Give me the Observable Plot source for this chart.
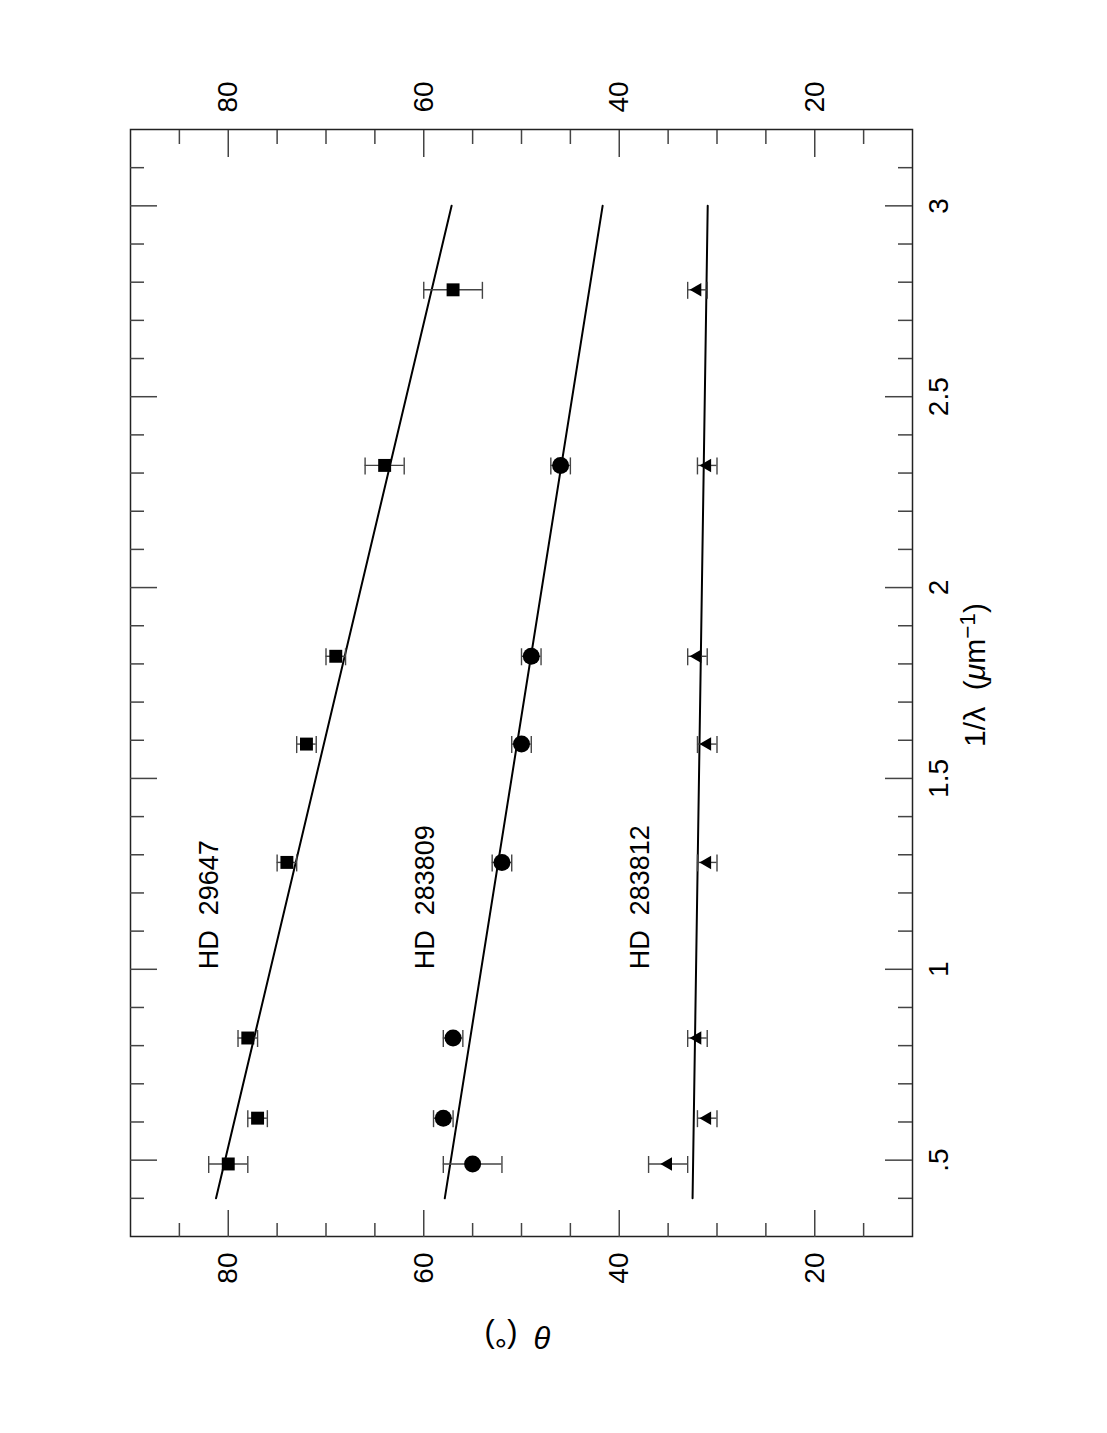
<!DOCTYPE html>
<html><head><meta charset="utf-8">
<script src="https://cdn.jsdelivr.net/npm/d3@7"></script>
<script src="https://cdn.jsdelivr.net/npm/@observablehq/plot@0.6"></script>
<style>
body{margin:0;background:#fff;}
#wrap{position:relative;width:1107px;height:1433px;overflow:hidden;background:#fff;}
#wrap svg{position:absolute;left:0;top:0;max-width:none !important;width:1433px !important;height:1107px !important;transform-origin:0 0;transform:translate(0,1433px) rotate(-90deg);white-space:pre;}
</style></head><body><div id="wrap"></div>
<script>
// wavenumber 1/lambda (um^-1)
const waveNumbers = [0.49, 0.61, 0.82, 1.28, 1.59, 1.82, 2.32, 2.78];
const hd29647Theta = [80, 77, 78, 74, 72, 69, 64, 57];
const hd29647Err = [2, 1, 1, 1, 1, 1, 2, 3];
const hd283809Theta = [55, 58, 57, 52, 50, 49, 46];
const hd283809Err = [3, 1, 1, 1, 1, 1, 1];
const hd283812Theta = [35, 31, 32, 31, 31, 32, 31, 32];
const hd283812Err = [2, 1, 1, 1, 1, 1, 1, 1];
const fitRange = [0.4, 3.0];
const hd29647Fit = [81.25, 57.15];
const hd283809Fit = [57.85, 41.7];
const hd283812Fit = [32.5, 30.95];
const starNames = ["HD  29647", "HD  283809", "HD  283812"];
const labelX = [1.0, 1.0, 1.0];
const labelTheta = [81, 59, 37];
const xMajorTicks = [0.5, 1, 1.5, 2, 2.5, 3];
const xMinorTicks = [0.4,0.6,0.7,0.8,0.9,1.1,1.2,1.3,1.4,1.6,1.7,1.8,1.9,2.1,2.2,2.3,2.4,2.6,2.7,2.8,2.9,3.1];
const thetaMajorTicks = [20, 40, 60, 80];
const thetaMinorTicks = [15, 25, 30, 35, 45, 50, 55, 65, 70, 75, 85];
const xLabel = "1/λ (μm-1)";
const yLabel = "θ (°)";

const W = 1433, H = 1107;
const mL = 196, mR = 130, mT = 130, mB = 195;
const fW = W - mL - mR, fH = H - mT - mB;
const majorLen = 27, minorLen = 14;

const rows = (th, er) => th.map((t, i) => ({x: waveNumbers[i], t, e: er[i]}));
const sq = rows(hd29647Theta, hd29647Err);
const ci = rows(hd283809Theta, hd283809Err);
const tr = rows(hd283812Theta, hd283812Err);
const fit = f => fitRange.map((x, i) => ({x, t: f[i]}));

const errMarks = d => [
  Plot.ruleX(d, {x: "x", y1: r => r.t - r.e, y2: r => r.t + r.e, stroke: "#444", strokeWidth: 1.4}),
  Plot.ruleY(d, {y: r => r.t - r.e, x1: "x", x2: "x", insetLeft: -8.5, insetRight: -8.5, stroke: "#444", strokeWidth: 1.4}),
  Plot.ruleY(d, {y: r => r.t + r.e, x1: "x", x2: "x", insetLeft: -8.5, insetRight: -8.5, stroke: "#444", strokeWidth: 1.4})
];

const tickStyle = {stroke: "#444", strokeWidth: 1.5};
const plot = Plot.plot({
  width: W, height: H,
  marginLeft: mL, marginRight: mR, marginTop: mT, marginBottom: mB,
  style: {fontFamily: "Liberation Sans, Arial, sans-serif", fontSize: "28px", background: "white", color: "black"},
  x: {domain: [0.3, 3.2], axis: null},
  y: {domain: [10, 90], axis: null},
  marks: [
    Plot.frame({stroke: "#222", strokeWidth: 1.5}),
    Plot.tickX(xMajorTicks, {x: d => d, insetTop: fH - majorLen, ...tickStyle}),
    Plot.tickX(xMinorTicks, {x: d => d, insetTop: fH - minorLen, ...tickStyle}),
    Plot.tickX(xMajorTicks, {x: d => d, insetBottom: fH - majorLen, ...tickStyle}),
    Plot.tickX(xMinorTicks, {x: d => d, insetBottom: fH - minorLen, ...tickStyle}),
    Plot.tickY(thetaMajorTicks, {y: d => d, insetRight: fW - majorLen, ...tickStyle}),
    Plot.tickY(thetaMinorTicks, {y: d => d, insetRight: fW - minorLen, ...tickStyle}),
    Plot.tickY(thetaMajorTicks, {y: d => d, insetLeft: fW - majorLen, ...tickStyle}),
    Plot.tickY(thetaMinorTicks, {y: d => d, insetLeft: fW - minorLen, ...tickStyle}),
    Plot.axisX(xMajorTicks, {anchor: "bottom", tickSize: 0, tickPadding: 16, tickFormat: d => d === 0.5 ? ".5" : String(d), label: null, fontSize: 28}),
    Plot.axisY(thetaMajorTicks, {anchor: "left", tickSize: 0, tickPadding: 16, label: null, fontSize: 28}),
    Plot.axisY(thetaMajorTicks, {anchor: "right", tickSize: 0, tickPadding: 17, label: null, fontSize: 28}),
    Plot.line(fit(hd29647Fit), {x: "x", y: "t", stroke: "black", strokeWidth: 2}),
    Plot.line(fit(hd283809Fit), {x: "x", y: "t", stroke: "black", strokeWidth: 2}),
    Plot.line(fit(hd283812Fit), {x: "x", y: "t", stroke: "black", strokeWidth: 2}),
    ...errMarks(sq), ...errMarks(ci), ...errMarks(tr),
    Plot.dot(sq, {x: "x", y: "t", symbol: "square", r: 7.3, fill: "black"}),
    Plot.dot(ci, {x: "x", y: "t", symbol: "circle", r: 8.5, fill: "black"}),
    Plot.dot(tr, {x: "x", y: "t", symbol: "triangle", r: 5, fill: "black"}),
    Plot.text(starNames, {x: (d, i) => labelX[i], y: (d, i) => labelTheta[i], text: d => d, textAnchor: "start", lineAnchor: "bottom", fontSize: 27}),
    Plot.text([xLabel], {text: d => d, frameAnchor: "bottom", dy: 63, dx: 8, lineAnchor: "middle", fontSize: 30}),
    Plot.text([yLabel], {text: d => d, frameAnchor: "left", dx: -99, dy: 30, rotate: -90, lineAnchor: "middle", fontSize: 31})
  ]
});
document.getElementById("wrap").appendChild(plot);

// rich text for axis titles
d3.select(plot).selectAll("text").each(function() {
  const t = d3.select(this);
  if (this.textContent === xLabel) {
    t.text(null);
    t.append("tspan").text("1/λ  (");
    t.append("tspan").attr("font-style", "italic").text("μ");
    t.append("tspan").text("m");
    t.append("tspan").attr("dy", "-0.45em").attr("font-size", "0.75em").text("−1");
    t.append("tspan").attr("dy", "0.34em").text(")");
  } else if (this.textContent === yLabel) {
    t.text(null);
    t.append("tspan").attr("font-style", "italic").text("θ");
    t.append("tspan").text("  (°)");
  }
});
</script></body></html>
